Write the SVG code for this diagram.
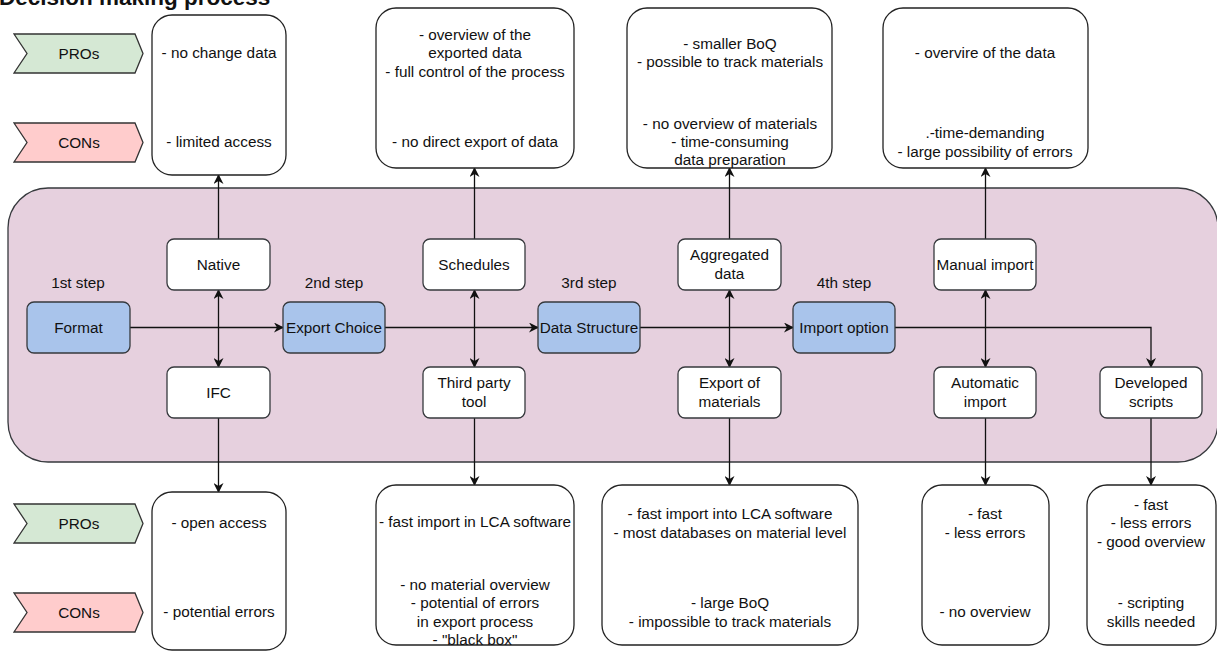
<svg xmlns="http://www.w3.org/2000/svg" width="1217" height="651" viewBox="0 0 1217 651">
  <style>
    text { font-family: "Liberation Sans", Arial, sans-serif; font-size: 15.3px; fill: #111; text-anchor: middle; }
    .title { font-size: 22.5px; font-weight: bold; text-anchor: start; }
    .step { fill: #E6D0DE; stroke: #36393d; stroke-width: 1.3; }
    .main { fill: #A9C4EB; stroke: #36393d; stroke-width: 1.3; }
    .opt { fill: #ffffff; stroke: #36393d; stroke-width: 1.3; }
    .note { fill: #ffffff; stroke: #222; stroke-width: 1.3; }
    .pro { fill: #D5E8D4; stroke: #333; stroke-width: 1.3; }
    .con { fill: #FFCCCC; stroke: #333; stroke-width: 1.3; }
    .edge { fill: none; stroke: #111; stroke-width: 1.3; }
  </style>
  <defs>
    <marker id="arrow" viewBox="0 0 10 10" refX="9" refY="5" markerWidth="10" markerHeight="10" markerUnits="userSpaceOnUse" orient="auto-start-reverse">
      <path d="M0,0 L10,5 L0,10 L3,5 Z" fill="#111"/>
    </marker>
  </defs>

  <text class="title" x="-1" y="5">Decision making process</text>

  <!-- background container for the process steps -->
  <g id="process-area">
    <rect class="step" x="8" y="188" width="1210" height="274" rx="40" ry="40"/>
  </g>

  <!-- PROs / CONs tags -->
  <g id="tag-pros-top">
    <path class="pro" d="M14,34 L135,34 L143,53.5 L135,73 L14,73 L27,53.5 Z"/>
    <text x="79" y="59">PROs</text>
  </g>
  <g id="tag-cons-top">
    <path class="con" d="M14,123 L135,123 L143,142.5 L135,162 L14,162 L27,142.5 Z"/>
    <text x="79" y="148">CONs</text>
  </g>
  <g id="tag-pros-bottom">
    <path class="pro" d="M14,504 L135,504 L143,523.5 L135,543 L14,543 L27,523.5 Z"/>
    <text x="79" y="529">PROs</text>
  </g>
  <g id="tag-cons-bottom">
    <path class="con" d="M14,593 L135,593 L143,612.5 L135,632 L14,632 L27,612.5 Z"/>
    <text x="79" y="618">CONs</text>
  </g>

  <!-- step labels -->
  <g id="step-labels">
    <text x="78" y="288">1st step</text>
    <text x="334" y="288">2nd step</text>
    <text x="589" y="288">3rd step</text>
    <text x="844" y="288">4th step</text>
  </g>

  <!-- connectors -->
  <g id="connectors">
    <path class="edge" d="M130,327.5 L283,327.5" marker-end="url(#arrow)"/>
    <path class="edge" d="M385,327.5 L538,327.5" marker-end="url(#arrow)"/>
    <path class="edge" d="M640,327.5 L793,327.5" marker-end="url(#arrow)"/>
    <path class="edge" d="M895,327.5 L1151,327.5 L1151,367" marker-end="url(#arrow)"/>

    <path class="edge" d="M218.5,290 L218.5,367" marker-start="url(#arrow)" marker-end="url(#arrow)"/>
    <path class="edge" d="M474.5,290 L474.5,367" marker-start="url(#arrow)" marker-end="url(#arrow)"/>
    <path class="edge" d="M729.5,290 L729.5,367" marker-start="url(#arrow)" marker-end="url(#arrow)"/>
    <path class="edge" d="M985.5,290 L985.5,367" marker-start="url(#arrow)" marker-end="url(#arrow)"/>

    <path class="edge" d="M218.5,239 L218.5,175" marker-end="url(#arrow)"/>
    <path class="edge" d="M474.5,239 L474.5,168" marker-end="url(#arrow)"/>
    <path class="edge" d="M729.5,239 L729.5,168" marker-end="url(#arrow)"/>
    <path class="edge" d="M985.5,239 L985.5,168" marker-end="url(#arrow)"/>

    <path class="edge" d="M218.5,418 L218.5,492" marker-end="url(#arrow)"/>
    <path class="edge" d="M474.5,418 L474.5,485" marker-end="url(#arrow)"/>
    <path class="edge" d="M729.5,418 L729.5,485" marker-end="url(#arrow)"/>
    <path class="edge" d="M985.5,418 L985.5,485" marker-end="url(#arrow)"/>
    <path class="edge" d="M1151,418 L1151,485" marker-end="url(#arrow)"/>
  </g>

  <!-- main steps -->
  <g id="format">
    <rect class="main" x="27" y="302" width="103" height="51" rx="7"/>
    <text x="78.5" y="333">Format</text>
  </g>
  <g id="export-choice">
    <rect class="main" x="283" y="302" width="102" height="51" rx="7"/>
    <text x="334" y="333">Export Choice</text>
  </g>
  <g id="data-structure">
    <rect class="main" x="538" y="302" width="102" height="51" rx="7"/>
    <text x="589" y="333">Data Structure</text>
  </g>
  <g id="import-option">
    <rect class="main" x="793" y="302" width="102" height="51" rx="7"/>
    <text x="844" y="333">Import option</text>
  </g>

  <!-- options -->
  <g id="native">
    <rect class="opt" x="167" y="239" width="103" height="51" rx="7"/>
    <text x="218.5" y="270">Native</text>
  </g>
  <g id="ifc">
    <rect class="opt" x="167" y="367" width="103" height="51" rx="7"/>
    <text x="218.5" y="398">IFC</text>
  </g>
  <g id="schedules">
    <rect class="opt" x="423" y="239" width="102" height="51" rx="7"/>
    <text x="474" y="270">Schedules</text>
  </g>
  <g id="third-party-tool">
    <rect class="opt" x="423" y="367" width="102" height="51" rx="7"/>
    <text x="474" y="388">Third party</text>
    <text x="474" y="407">tool</text>
  </g>
  <g id="aggregated-data">
    <rect class="opt" x="678" y="239" width="103" height="51" rx="7"/>
    <text x="729.5" y="260">Aggregated</text>
    <text x="729.5" y="279">data</text>
  </g>
  <g id="export-of-materials">
    <rect class="opt" x="678" y="367" width="103" height="51" rx="7"/>
    <text x="729.5" y="388">Export of</text>
    <text x="729.5" y="407">materials</text>
  </g>
  <g id="manual-import">
    <rect class="opt" x="934" y="239" width="102" height="51" rx="7"/>
    <text x="985" y="270">Manual import</text>
  </g>
  <g id="automatic-import">
    <rect class="opt" x="934" y="367" width="102" height="51" rx="7"/>
    <text x="985" y="388">Automatic</text>
    <text x="985" y="407">import</text>
  </g>
  <g id="developed-scripts">
    <rect class="opt" x="1100" y="367" width="102" height="51" rx="7"/>
    <text x="1151" y="388">Developed</text>
    <text x="1151" y="407">scripts</text>
  </g>

  <!-- pros / cons notes, top row -->
  <g id="note-native">
    <rect class="note" x="152" y="15" width="134" height="160" rx="20"/>
    <text x="219" y="58">- no change data</text>
    <text x="219" y="147">- limited access</text>
  </g>
  <g id="note-schedules">
    <rect class="note" x="376" y="8" width="198" height="160" rx="20"/>
    <text x="475" y="40">- overview of the</text>
    <text x="475" y="58">exported data</text>
    <text x="475" y="77">- full control of the process</text>
    <text x="475" y="147">- no direct export of data</text>
  </g>
  <g id="note-aggregated">
    <rect class="note" x="627" y="8" width="205" height="160" rx="20"/>
    <text x="730" y="49">- smaller BoQ</text>
    <text x="730" y="67">- possible to track materials</text>
    <text x="730" y="129">- no overview of materials</text>
    <text x="730" y="147">- time-consuming</text>
    <text x="730" y="165">data preparation</text>
  </g>
  <g id="note-manual">
    <rect class="note" x="883" y="8" width="205" height="160" rx="20"/>
    <text x="985" y="58">- overvire of the data</text>
    <text x="985" y="138">.-time-demanding</text>
    <text x="985" y="157">- large possibility of errors</text>
  </g>

  <!-- pros / cons notes, bottom row -->
  <g id="note-ifc">
    <rect class="note" x="152" y="492" width="134" height="158" rx="20"/>
    <text x="219" y="528">- open access</text>
    <text x="219" y="617">- potential errors</text>
  </g>
  <g id="note-third-party">
    <rect class="note" x="376" y="485" width="198" height="160" rx="20"/>
    <text x="475" y="527">- fast import in LCA software</text>
    <text x="475" y="590">- no material overview</text>
    <text x="475" y="608">- potential of errors</text>
    <text x="475" y="627">in export process</text>
    <text x="475" y="645">- "black box"</text>
  </g>
  <g id="note-export-materials">
    <rect class="note" x="602" y="485" width="256" height="160" rx="20"/>
    <text x="730" y="519">- fast import into LCA software</text>
    <text x="730" y="538">- most databases on material level</text>
    <text x="730" y="608">- large BoQ</text>
    <text x="730" y="627">- impossible to track materials</text>
  </g>
  <g id="note-automatic">
    <rect class="note" x="922" y="485" width="127" height="160" rx="20"/>
    <text x="985" y="519">- fast</text>
    <text x="985" y="538">- less errors</text>
    <text x="985" y="617">- no overview</text>
  </g>
  <g id="note-scripts">
    <rect class="note" x="1087" y="485" width="129" height="160" rx="20"/>
    <text x="1151" y="510">- fast</text>
    <text x="1151" y="528">- less errors</text>
    <text x="1151" y="547">- good overview</text>
    <text x="1151" y="608">- scripting</text>
    <text x="1151" y="627">skills needed</text>
  </g>
</svg>
